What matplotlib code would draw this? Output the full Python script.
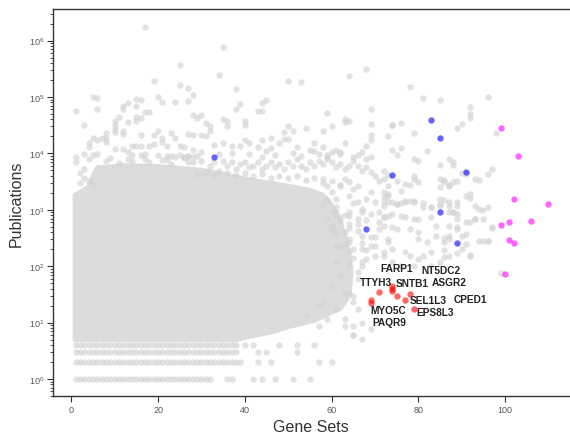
import numpy as np
import matplotlib.pyplot as plt
from matplotlib.ticker import NullFormatter

plt.rcParams['font.family'] = ['Liberation Sans', 'DejaVu Sans']
plt.rcParams['mathtext.fontset'] = 'custom'
plt.rcParams['mathtext.rm'] = 'Liberation Sans'
plt.rcParams['mathtext.default'] = 'regular'

# dense core of the grey cloud (outline)
core_x = [0.9, 4, 6, 12, 20, 30, 35, 40, 45, 50, 55, 58, 60, 62, 63.5, 64.5, 64, 62, 58, 56, 50, 46, 40, 38, 0.9]
core_y = [1800, 2500, 5500, 6000, 5800, 5000, 4200, 3500, 3000, 2600, 2200, 1800, 1200, 600, 250, 80, 30, 18, 13, 11, 8.5, 6.8, 5.5, 5, 5]

# low integer rows of publications
row1_x = list(range(1, 33)) + [36, 37, 42, 44, 47, 51, 55]
row2_x = list(range(1, 40)) + [43, 46, 57, 60]
row3_x = list(range(1, 39)) + [43, 45, 52]
row4_x = list(range(1, 39)) + [40, 42, 48, 52, 56]

# scattered grey genes outside the core
grey_x = [17, 25, 19, 25, 27, 28, 5, 6, 20, 21, 24, 27, 15, 16, 13, 12, 12, 15, 1, 6, 17, 18, 11, 15, 16, 28,
          10, 10, 10, 13, 15, 3, 8, 8, 10, 12, 12, 16, 20, 19, 21, 23, 24, 27, 28, 4, 5, 6, 7, 4, 8, 10, 14, 15,
          16, 18, 19, 21, 22, 25, 26, 1, 1, 3, 4, 5, 6, 12, 13, 14, 16, 17, 20, 21, 22, 23, 24, 25, 26, 27, 28, 29,
          44, 35, 34, 50, 53, 64, 68, 38, 39, 38, 43, 45, 44, 44, 36, 35, 36, 40, 40, 49, 50, 51, 54, 58, 59, 60,
          63, 64, 69, 69, 63, 69, 69, 68, 28, 30, 29, 31, 32, 32, 30, 31, 33, 35, 37, 39, 40, 41, 43, 44, 46, 46,
          48, 49, 50, 52, 55, 56, 56, 58, 59, 60, 61, 62, 63, 65, 67, 68, 69,
          75, 78, 81, 85, 96, 92, 92, 92, 89, 90, 74, 76, 74, 79, 98, 73, 76, 82, 74, 79, 80, 87, 88, 88, 90, 93,
          94, 96, 97, 72, 73, 75, 77, 78, 79, 79, 80, 85, 85, 86, 87, 88, 91, 92, 73, 72, 73, 72, 73, 75, 76, 76,
          77, 78, 79, 81, 83, 85, 86, 85, 87, 88, 89, 93, 95, 88, 85, 86, 87, 89, 89, 89, 92, 93, 97, 91, 86, 87,
          91, 95, 96, 86, 86, 89, 92, 99,
          72, 74, 75, 77, 79, 81, 83, 85, 87, 89, 91, 92, 94, 96, 95, 97, 94, 96, 92, 90, 89, 87, 83, 80, 79, 77,
          76, 74, 72, 72, 74, 75, 78, 80, 80, 82, 83, 81, 80, 78, 77, 74, 73, 72, 74, 76, 79, 83, 85, 87, 86, 87,
          90, 91, 93, 89, 87, 84, 84,
          61, 64, 66, 69, 72, 60, 63, 64, 67, 71, 73, 61, 64, 67, 69, 72, 61, 64, 62, 66, 67, 60, 63, 65, 66, 63,
          65, 67, 61, 59, 57, 54, 57, 58,
          27, 28, 30, 32, 33, 35, 36, 37, 38, 39, 40, 41, 42, 43, 44, 45, 46, 47, 48, 49, 50, 51, 52, 53, 54, 55,
          56, 57, 58, 59, 60, 61, 62, 63, 64, 65, 66, 67, 68, 69, 70, 71, 72, 73, 58, 59, 60, 61, 62, 63, 64, 65,
          66, 67, 68, 69, 70, 71, 72, 73, 61, 64,
          62, 64, 65, 64, 67, 68, 70, 66, 64, 65, 63, 65, 65, 67, 69,
          29, 31, 33, 34, 36, 38, 40, 42, 44, 46, 48, 50, 52, 54, 56, 58, 60, 62, 64, 66,
          30, 34, 37, 41, 45, 47, 51, 53, 57, 59, 62, 66,
          59, 60, 61, 62, 63, 64, 65, 66, 67, 68, 69, 70, 71, 58, 60, 62, 64, 66, 68, 70, 59, 61, 63, 65, 67,
          2, 3, 5, 2, 4, 3, 8, 11, 14, 18, 23, 27, 9, 13, 17, 22, 26]
grey_y = [1.76e6, 3.74e5, 1.9e5, 1.65e5, 1.43e5, 1.08e5, 9.9e4, 9.5e4, 9.9e4, 8.05e4, 8.3e4, 8.4e4, 9.2e4, 9.0e4,
          7.7e4, 6.8e4, 6.0e4, 6.8e4, 5.6e4, 6.0e4, 5.4e4, 5.4e4, 4.5e4, 4.5e4, 4.3e4, 4.7e4,
          3.8e4, 3.2e4, 2.7e4, 3.6e4, 3.8e4, 3.2e4, 2.3e4, 1.9e4, 2.4e4, 2.5e4, 2.2e4, 2.1e4, 2.5e4, 2.1e4, 1.9e4,
          2.3e4, 1.9e4, 2.2e4, 2.1e4, 1.5e4, 1.85e4, 1.7e4, 1.85e4, 1.3e4, 1.57e4, 1.2e4, 1.33e4, 1.33e4,
          1.33e4, 1.35e4, 1.45e4, 1.57e4, 1.35e4, 1.35e4, 1.3e4, 8500, 7000, 9800, 8100, 9300, 9800, 1.2e4, 1.05e4,
          9300, 9300, 9800, 9300, 7500, 9000, 9000, 8800, 9200, 8700, 9100, 8600, 9000, 8800,
          7.6e5, 2.45e5, 1.95e5, 1.87e5, 2.36e5, 3.1e5, 1.37e5, 7.4e4, 6.1e4, 5.7e4, 9e4, 7.8e4, 5.7e4, 3.8e4,
          4e4, 3.1e4, 3.2e4, 3.7e4, 2.4e4, 3.1e4, 2.5e4, 2.8e4, 2.5e4, 5.2e4, 3e4, 3.6e4, 3.7e4, 3.3e4, 6.1e4,
          4e4, 2.15e4, 1.7e4, 1.37e4, 1.16e4, 4.7e4, 4.2e4, 3.5e4, 3.1e4, 2.5e4, 2.1e4, 2e4, 1.4e4, 1.5e4,
          1.37e4, 1.37e4, 1.7e4, 1.5e4, 1.3e4, 1.75e4, 1.25e4, 1.9e4, 1.5e4, 1.8e4, 1.8e4, 1.3e4, 1.16e4, 1.1e4,
          1.5e4, 1.3e4, 9500, 1.05e4, 1.16e4, 1.05e4, 1.5e4, 8500, 1.07e4, 8000, 8500, 9500,
          1.5e5, 9.7e4, 9e4, 9.9e4, 6.7e4, 4.9e4, 4.3e4, 2.8e4, 3.3e4, 3.15e4, 3.5e4, 3.2e4, 2.3e4, 2.3e4, 2e4,
          1.23e4, 1.1e4, 1.17e4, 8000, 7400, 8000, 6300, 6900, 4400, 3500, 3400, 4300, 5300, 4800, 4100, 3200,
          2900, 2750, 4000, 3500, 3100, 2500, 3500, 3150, 2700, 3150, 4300, 1620, 1880, 2040, 1780, 1660, 1360,
          1270, 1320, 2180, 1360, 1450, 1410, 1320, 1110, 1150, 1510, 1550, 1180, 900, 1180, 1180, 1000, 930,
          6200, 3420, 2610, 3200, 680, 495, 600, 680, 470, 372, 313, 339, 250, 283, 283, 194, 147, 174, 156, 76,
          1450, 1360, 1270, 1450, 1360, 1110, 1110, 1270, 1360, 1360, 1780, 1900, 1030, 1110, 690, 490, 284, 284,
          154, 202, 457, 524, 737, 688, 688, 736, 787, 843, 737, 524, 489, 457, 457, 398, 304, 265, 176, 154, 134,
          154, 176, 202, 265, 154, 117, 102, 102, 102, 117, 154, 265, 304, 348, 600, 688, 843, 902, 524, 348,
          787, 902, 687, 842, 735, 456, 398, 303, 348, 456, 303, 231, 176, 202, 231, 176, 117, 102, 68, 78, 117,
          45, 34, 30, 17.4, 11.6, 5.9, 5.1, 17.4, 11.6, 8.8, 13.3, 20, 22.9,
          9100, 6950, 7450, 6070, 6950, 7450, 6070, 6950, 5300, 6500, 6950, 5670, 6070, 6950, 5300, 6070, 6950,
          5670, 6500, 5300, 6950, 6070, 7960, 6070, 5300, 6950, 6070, 7450, 6500, 7960, 6950, 5670, 6500, 5300,
          6070, 7450, 6070, 4940, 5670, 4620, 4040, 3290, 3520, 2680, 3520, 2680, 2040, 1560, 2680, 3520, 1780,
          2340, 1360, 1035, 1560, 2040, 1360, 900, 1185, 787, 900, 787,
          231, 265, 202, 117, 102, 134, 154, 59, 34, 23, 8.8, 8.8, 5.9, 10, 7.7,
          4300, 4600, 4200, 4800, 4400, 4100, 4500, 3900, 4300, 3700, 4000, 3600, 3900, 3400, 3700, 3000, 3300,
          2800, 3100, 2600,
          10500, 9800, 10200, 9600, 10800, 9200, 10100, 8900, 9700, 8800, 9900, 9300,
          700, 520, 380, 620, 250, 480, 140, 560, 260, 190, 330, 230, 600, 1200, 900, 750, 560, 420, 650, 330,
          1500, 1100, 800, 1300, 900,
          3000, 3600, 2800, 4500, 3300, 5200, 7200, 6800, 7300, 6900, 6600, 7100, 8200, 7900, 8100, 7700, 8300]

# highlighted genes
blue_x = [33, 83, 85, 91, 74, 85, 89, 68]
blue_y = [8750, 39600, 19000, 4740, 4140, 902, 261, 457]

magenta_x = [99, 103, 102, 110, 99, 101, 106, 101, 102, 100]
magenta_y = [27900, 8880, 1550, 1285, 545, 615, 625, 288, 261, 72.8]

red_x = [69, 69, 71, 74, 74, 74, 75, 77, 78, 79]
red_y = [25, 22, 34.5, 44, 39, 36, 30, 25, 32, 17.4]

gene_names = ['FARP1', 'NT5DC2', 'TTYH3', 'SNTB1', 'ASGR2', 'SEL1L3', 'CPED1', 'MYO5C', 'EPS8L3', 'PAQR9']
label_x = [75.1, 85.3, 70.3, 78.7, 87.1, 82.2, 92.0, 73.0, 83.9, 73.3]
label_y = [93, 85.7, 52.5, 50.4, 52.5, 25.5, 26.2, 16.7, 15.4, 10.3]

y_ticks = [1, 10, 100, 1000, 1e4, 1e5, 1e6]
x_ticks = [0, 20, 40, 60, 80, 100]

fig = plt.figure(figsize=(5.7, 4.35), dpi=100)
ax = fig.add_axes([0.0925, 0.0867, 0.9075, 0.8903])

grey = '#d3d3d3'
ms = 21
ax.fill(core_x, core_y, color='#dcdcdc', lw=3.8, ec='#dcdcdc', joinstyle='round', zorder=1)
for yv, xs in [(1, row1_x), (2, row2_x), (3, row3_x), (4, row4_x)]:
    ax.scatter(xs, [yv] * len(xs), s=ms, color=grey, alpha=0.65, linewidths=0, zorder=2)
ax.scatter(grey_x, grey_y, s=ms, color=grey, alpha=0.65, linewidths=0, zorder=2)

ax.scatter(blue_x, blue_y, s=ms, color='blue', alpha=0.6, linewidths=0, zorder=3)
ax.scatter(magenta_x, magenta_y, s=ms, color='magenta', alpha=0.6, linewidths=0, zorder=3)
ax.scatter(red_x, red_y, s=ms, color='red', alpha=0.6, linewidths=0, zorder=3)

for name, lx, ly in zip(gene_names, label_x, label_y):
    ax.text(lx, ly, name, fontsize=7.3, fontweight='bold', color='#222222',
            ha='center', va='center', zorder=4)

ax.set_yscale('log')
ax.set_xlim(-4.3, 115)
ax.set_ylim(0.493, 3.63e6)
ax.set_xticks(x_ticks)
ax.set_yticks(y_ticks)
ax.yaxis.set_minor_formatter(NullFormatter())

ax.spines['right'].set_visible(False)
for s in ['left', 'bottom', 'top']:
    ax.spines[s].set_color('#333333')
    ax.spines[s].set_linewidth(1.0)
ax.tick_params(which='major', length=4, width=0.8, color='#333333', labelsize=6.5, labelcolor='#555555', pad=2)
ax.tick_params(which='minor', length=2, width=0.6, color='#333333')

ax.set_xlabel('Gene Sets', fontsize=11.5, color='#333333', labelpad=4)
ax.set_ylabel('Publications', fontsize=11.5, color='#333333', labelpad=4)

fig.savefig('out.png', dpi=100)
